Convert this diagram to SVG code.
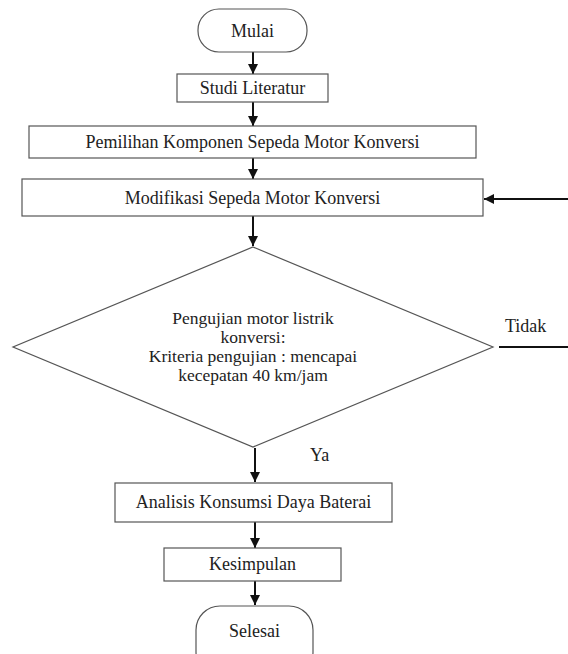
<svg xmlns="http://www.w3.org/2000/svg" width="568" height="654" viewBox="0 0 568 654">
<style>
.box{fill:#fff;stroke:#555;stroke-width:1.2}
.t{font-family:"Liberation Serif","Times New Roman",serif;font-size:18px;fill:#222;text-anchor:middle}
.td{font-family:"Liberation Serif","Times New Roman",serif;font-size:17.5px;fill:#222;text-anchor:middle}
.tl{font-family:"Liberation Serif","Times New Roman",serif;font-size:18px;fill:#222}
.c{stroke:#111;stroke-width:2;fill:none}
</style>
<defs>
<marker id="ah" viewBox="0 0 10 10" refX="10" refY="5" markerWidth="5" markerHeight="5" markerUnits="strokeWidth" orient="auto">
<path d="M0,0 L10,5 L0,10 z" fill="#111"/>
</marker>
</defs>
<rect width="568" height="654" fill="#fff"/>
<g id="connectors">
<line class="c" x1="253" y1="52" x2="253" y2="74" marker-end="url(#ah)"/>
<line class="c" x1="253" y1="102" x2="253" y2="126" marker-end="url(#ah)"/>
<line class="c" x1="253" y1="158" x2="253" y2="179" marker-end="url(#ah)"/>
<line class="c" x1="253" y1="216" x2="253" y2="246" marker-end="url(#ah)"/>
<line class="c" x1="568" y1="199" x2="484" y2="199" marker-end="url(#ah)"/>
<line class="c" x1="499" y1="347" x2="568" y2="347"/>
<line class="c" x1="255" y1="448" x2="255" y2="482" marker-end="url(#ah)"/>
<line class="c" x1="255" y1="522" x2="255" y2="548" marker-end="url(#ah)"/>
<line class="c" x1="255" y1="581" x2="255" y2="605" marker-end="url(#ah)"/>
<text class="tl" x="505" y="332">Tidak</text>
<text class="tl" x="310" y="461">Ya</text>
</g>
<g id="mulai">
<rect class="box" x="198" y="9" width="109" height="43" rx="21" ry="21"/>
<text class="t" x="252.5" y="37">Mulai</text>
</g>
<g id="studi">
<rect class="box" x="177" y="74" width="151" height="28"/>
<text class="t" x="252.5" y="94">Studi Literatur</text>
</g>
<g id="pemilihan">
<rect class="box" x="29" y="126" width="447" height="32"/>
<text class="t" x="252.5" y="148">Pemilihan Komponen Sepeda Motor Konversi</text>
</g>
<g id="modifikasi">
<rect class="box" x="22" y="179" width="461" height="37"/>
<text class="t" x="252.5" y="204">Modifikasi Sepeda Motor Konversi</text>
</g>
<g id="pengujian">
<polygon class="box" points="253,247 493,347 253,447 13,347"/>
<text class="td" x="253" y="324">Pengujian motor listrik</text>
<text class="td" x="253" y="343">konversi:</text>
<text class="td" x="253" y="362">Kriteria pengujian : mencapai</text>
<text class="td" x="253" y="381">kecepatan 40 km/jam</text>
</g>
<g id="analisis">
<rect class="box" x="115" y="483" width="277" height="39"/>
<text class="t" x="253.5" y="508">Analisis Konsumsi Daya Baterai</text>
</g>
<g id="kesimpulan">
<rect class="box" x="164" y="548" width="177" height="33"/>
<text class="t" x="252.5" y="570">Kesimpulan</text>
</g>
<g id="selesai">
<rect class="box" x="196" y="606" width="117" height="70" rx="24" ry="24"/>
<text class="t" x="254.5" y="637">Selesai</text>
</g>
</svg>
